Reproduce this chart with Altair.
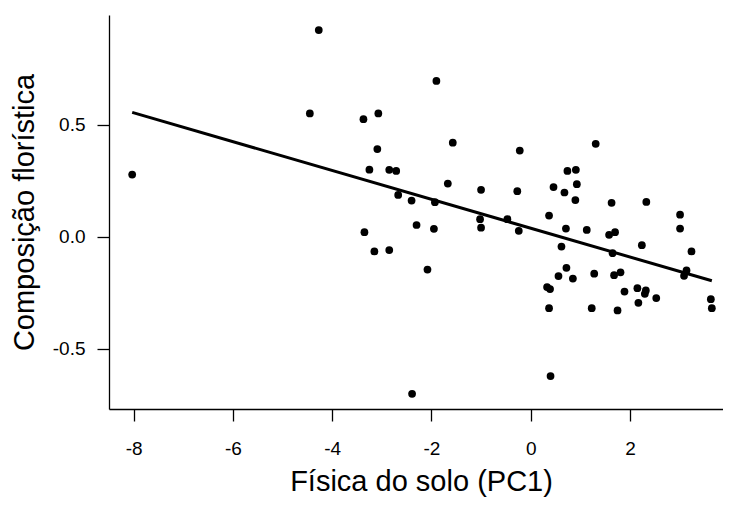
import altair as alt
import pandas as pd

# Física do solo (PC1)
pc1 = [
    -8.03, -4.45, -4.27, -3.37, -3.07, -3.09, -3.25, -2.85, -2.71, -2.67,
    -2.40, -1.93, -1.90, -1.67, -1.57, -1.00, -0.27, -0.22, 0.46, 0.68,
    0.74, 0.91, 0.93, 1.31, 0.90, 1.63, 2.33, 3.01, 3.01, 0.71,
    1.13, 1.58, 1.70, 0.62, 2.24, 3.24, 1.65, 0.72, 0.85, 0.56,
    1.28, 1.68, 1.81, 3.14, 3.09, 1.89, 2.15, 2.32, 2.30, 2.53,
    2.17, 1.23, 1.75, 3.63, 3.65, -3.35, -2.30, -1.95, -1.02, -1.00,
    -0.47, -0.24, 0.37, -3.15, -2.85, -2.08, 0.33, 0.39, 0.37, 0.40,
    -2.39,
]
# Composição florística
comp = [
    0.278, 0.551, 0.923, 0.525, 0.551, 0.392, 0.300, 0.299, 0.294, 0.187,
    0.162, 0.155, 0.696, 0.238, 0.420, 0.210, 0.204, 0.385, 0.222, 0.198,
    0.294, 0.299, 0.235, 0.415, 0.164, 0.152, 0.156, 0.099, 0.037, 0.037,
    0.031, 0.009, 0.021, -0.043, -0.037, -0.065, -0.073, -0.138, -0.186, -0.175,
    -0.164, -0.171, -0.158, -0.150, -0.174, -0.244, -0.229, -0.239, -0.254, -0.273,
    -0.294, -0.318, -0.328, -0.278, -0.318, 0.021, 0.053, 0.036, 0.079, 0.041,
    0.079, 0.027, 0.095, -0.065, -0.059, -0.146, -0.224, -0.233, -0.318, -0.621,
    -0.700,
]
x_ticks = [-8, -6, -4, -2, 0, 2, 4]
y_ticks = [-0.5, 0.0, 0.5]

df = pd.DataFrame({"pc1": pc1, "comp": comp})

FONT = "Liberation Sans"

x_enc = alt.X(
    "pc1:Q",
    scale=alt.Scale(domain=[-8.497, 3.875], nice=False, zero=False),
    axis=alt.Axis(
        title="Física do solo (PC1)",
        values=x_ticks,
        labelExpr="replace(toString(datum.value), '\u2212', '-')",
        grid=False,
        domainColor="#000000",
        domainWidth=1.3,
        tickColor="#000000",
        tickWidth=1.3,
        tickSize=12,
        labelFont=FONT,
        labelFontSize=19,
        labelColor="#000000",
        labelBaseline="alphabetic",
        labelPadding=33,
        labelFlush=False,
        labelOverlap=False,
        titleFont=FONT,
        titleFontSize=29,
        titleFontWeight="normal",
        titleColor="#000000",
        titleBaseline="alphabetic",
        titleY=81,
        titleX=312,
        titleAlign="center",
    ),
)
y_enc = alt.Y(
    "comp:Q",
    scale=alt.Scale(domain=[-0.768, 0.990], nice=False, zero=False),
    axis=alt.Axis(
        title="Composição florística",
        values=y_ticks,
        labelExpr="replace(format(datum.value, '.1f'), '\u2212', '-')",
        grid=False,
        domainColor="#000000",
        domainWidth=1.3,
        tickColor="#000000",
        tickWidth=1.3,
        tickSize=12,
        labelFont=FONT,
        labelFontSize=19,
        labelColor="#000000",
        labelPadding=12,
        labelBaseline="middle",
        labelAlign="right",
        labelFlush=False,
        labelOverlap=False,
        titleFont=FONT,
        titleFontSize=29,
        titleFontWeight="normal",
        titleColor="#000000",
        titleAngle=270,
        titleBaseline="alphabetic",
        titleAlign="center",
        titleX=-75.5,
        titleY=197,
    ),
)

points = alt.Chart(df).mark_circle(size=60, color="#000000", opacity=1).encode(
    x=x_enc, y=y_enc
)

line = (
    alt.Chart(df)
    .transform_regression("pc1", "comp")
    .mark_line(color="#000000", strokeWidth=3)
    .encode(x="pc1:Q", y="comp:Q")
)

chart = (
    alt.layer(points, line)
    .properties(
        width=614,
        height=394,
        autosize=alt.AutoSizeParams(type="none"),
        padding={"left": 101, "top": 7, "right": 0, "bottom": 88},
        background="white",
    )
    .configure_view(stroke=None)
)

chart.save("out.html", embed_options={"renderer": "svg", "actions": False})
